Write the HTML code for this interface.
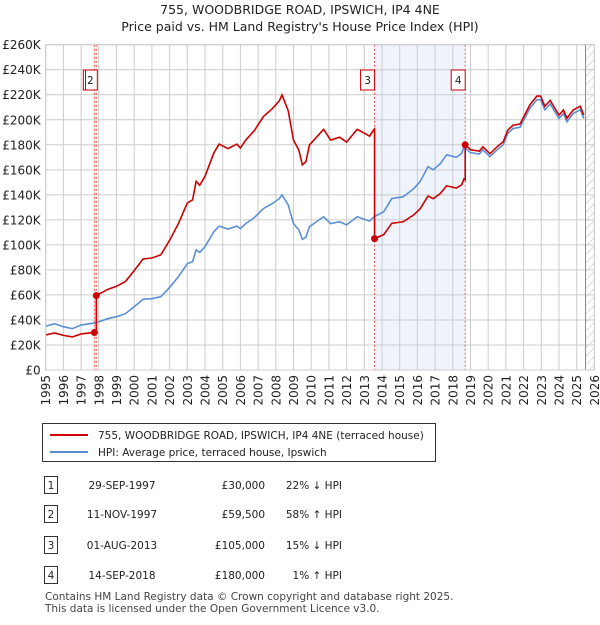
<!DOCTYPE html>
<html><head><meta charset="utf-8">
<style>
body{margin:0;background:#fff;font-family:"Liberation Sans","DejaVu Sans",sans-serif;}
svg text{font-family:"DejaVu Sans","Liberation Sans",sans-serif;}
</style></head><body>
<svg id="chart" width="600" height="620" viewBox="0 0 600 620" xmlns="http://www.w3.org/2000/svg">
<defs><pattern id="hatch" width="6" height="6" patternUnits="userSpaceOnUse" patternTransform="rotate(45)"><line x1="0" y1="0" x2="0" y2="6" stroke="#bbb" stroke-width="1"/></pattern></defs>
<text x="300" y="14" text-anchor="middle" font-size="12.5" fill="#222">755, WOODBRIDGE ROAD, IPSWICH, IP4 4NE</text>
<text x="300" y="31" text-anchor="middle" font-size="12.5" fill="#222">Price paid vs. HM Land Registry's House Price Index (HPI)</text>
<g id="plot"></g>
<g>
<rect x="42.5" y="423.5" width="393" height="38" fill="#fff" stroke="#333"/>
<line x1="50" y1="435" x2="88" y2="435" stroke="#cc0000" stroke-width="2"/>
<text x="98" y="439" font-size="10.5" fill="#222">755, WOODBRIDGE ROAD, IPSWICH, IP4 4NE (terraced house)</text>
<line x1="50" y1="452" x2="88" y2="452" stroke="#5b8fd4" stroke-width="2"/>
<text x="98" y="456" font-size="10.5" fill="#222">HPI: Average price, terraced house, Ipswich</text>
</g>
<g id="table" font-size="10.5" fill="#222"></g>
<text x="45" y="600" font-size="10.5" fill="#444">Contains HM Land Registry data © Crown copyright and database right 2025.</text>
<text x="45" y="612" font-size="10.5" fill="#444">This data is licensed under the Open Government Licence v3.0.</text>
</svg>
<script>
const hpiYears=[1995,1995.5,1996,1996.5,1997,1997.5,1997.8,1998.5,1999,1999.5,2000,2000.5,2001,2001.5,2002,2002.5,2003,2003.3,2003.5,2003.7,2004,2004.5,2004.8,2005.3,2005.8,2006,2006.3,2006.8,2007.3,2007.8,2008.2,2008.35,2008.7,2009,2009.3,2009.5,2009.7,2009.9,2010.7,2011.1,2011.6,2012,2012.6,2013.3,2013.55,2014.1,2014.55,2015.2,2015.8,2016.15,2016.6,2016.9,2017.3,2017.65,2018.2,2018.5,2018.63,2019,2019.5,2019.7,2020.1,2020.5,2020.85,2021.1,2021.4,2021.8,2022.35,2022.75,2022.96,2023.2,2023.5,2024,2024.25,2024.45,2024.8,2025.2,2025.4];
const hpiValues=[35,37,34.6,33,36,37,37.6,41,42.6,45,50.6,56.5,57,58.6,66,74.6,85,86.6,96,94,98.6,110.5,115,112.7,115,113,117,122,129,133,137,140,132,117,112,104.4,106,114.5,122.5,117,118.5,116,122.5,119,122.5,126.5,137,138.5,145,150.5,162.5,160,165,172,170,173,178.5,173.7,172.6,176,170.5,176,180,189,193,194,209,216,216,208,212.6,201,205,198.5,205,208,201];
const saleDates=[1997.75,1997.86,2013.58,2018.70];
const salePrices=[30,59.5,105,180];
const saleLabels=["1","2","3","4"];
const tableDates=["29-SEP-1997","11-NOV-1997","01-AUG-2013","14-SEP-2018"];
const tablePrices=["£30,000","£59,500","£105,000","£180,000"];
const tableHpi=["22% ↓ HPI","58% ↑ HPI","15% ↓ HPI","1% ↑ HPI"];
const yTicks=[0,20,40,60,80,100,120,140,160,180,200,220,240,260];
const xTicks=[1995,1996,1997,1998,1999,2000,2001,2002,2003,2004,2005,2006,2007,2008,2009,2010,2011,2012,2013,2014,2015,2016,2017,2018,2019,2020,2021,2022,2023,2024,2025,2026];

const NS="http://www.w3.org/2000/svg";
const L=45.7,R=594.4,T=44.7,B=370;
const X=y=>L+(y-1995)/(2026-1995)*(R-L);
const Y=v=>B-v/260*(B-T);
const plot=document.getElementById('plot');
function mk(tag,attrs,parent){const e=document.createElementNS(NS,tag);for(const k in attrs)e.setAttribute(k,attrs[k]);(parent||plot).appendChild(e);return e;}
function hpiAt(t){for(let i=1;i<hpiYears.length;i++){if(t<=hpiYears[i]){const f=(t-hpiYears[i-1])/(hpiYears[i]-hpiYears[i-1]);return hpiValues[i-1]+f*(hpiValues[i]-hpiValues[i-1]);}}return hpiValues[hpiValues.length-1];}

let sh=mk('rect',{x:X(saleDates[0]),y:T,width:X(saleDates[1])-X(saleDates[0]),height:B-T,fill:'#eef3fc'});


let sh2=mk('rect',{x:X(saleDates[2]),y:T,width:X(saleDates[3])-X(saleDates[2]),height:B-T,fill:'#eef3fc'});


let ht=mk('rect',{x:X(2025.5),y:T,width:R-X(2025.5),height:B-T,fill:'url(#hatch)'});


yTicks.forEach(v=>{const g=mk('line',{x1:L,x2:R,y1:Y(v),y2:Y(v),stroke:'#cccccc','stroke-width':1});


const t=mk('text',{x:L-5,y:Y(v)+4.5,'text-anchor':'end','font-size':'12',fill:'#222'});t.textContent=v===0?'£0':'£'+v+'K';

});
xTicks.forEach(y=>{const g=mk('line',{x1:X(y),x2:X(y),y1:T,y2:B,stroke:'#cccccc','stroke-width':1});


const t=mk('text',{x:0,y:0,'text-anchor':'end','font-size':'12',fill:'#222',transform:`translate(${X(y)+4.5},${B+5}) rotate(-90)`});t.textContent=y;

});
mk('line',{x1:X(2025.5),x2:X(2025.5),y1:T,y2:B,stroke:'#888','stroke-width':1});
saleDates.forEach((d,i)=>{const l=mk('line',{x1:X(d),x2:X(d),y1:T,y2:B,stroke:'#ee5555','stroke-width':1,'stroke-dasharray':'2,2'});

});
let hp=mk('polyline',{points:hpiYears.map((y,i)=>X(y)+','+Y(hpiValues[i])).join(' '),fill:'none',stroke:'#5b8fd4','stroke-width':1.6});


const pts=[];let seg=0;let fac=salePrices[0]/hpiAt(saleDates[0]);
for(let i=0;i<hpiYears.length;i++){
  while(seg<saleDates.length&&saleDates[seg]<=hpiYears[i]){
    pts.push([saleDates[seg],hpiAt(saleDates[seg])*fac]);
    pts.push([saleDates[seg],salePrices[seg]]);
    fac=salePrices[seg]/hpiAt(saleDates[seg]);seg++;
  }
  pts.push([hpiYears[i],hpiValues[i]*fac]);
}
let rl=mk('polyline',{points:pts.map(p=>X(p[0])+','+Y(p[1])).join(' '),fill:'none',stroke:'#cc0000','stroke-width':1.6});


saleDates.forEach((d,i)=>{const c=mk('circle',{cx:X(d),cy:Y(salePrices[i]),r:3.5,fill:'#cc0000'});

});
saleDates.forEach((d,i)=>{if(i===0)return;const off=i===1?-6:-7;const bx=X(d)+off-7;
const r=mk('rect',{x:bx,y:70,width:14,height:20,fill:'#fff',stroke:'#cc0000','stroke-width':1});


const t=mk('text',{x:bx+7,y:84,'text-anchor':'middle','font-size':'10.5',fill:'#222'});t.textContent=saleLabels[i];

});
mk('line',{x1:85.5,x2:85.5,y1:70,y2:90,stroke:'#cc0000','stroke-width':1});
mk('rect',{x:L,y:T,width:R-L,height:B-T,fill:'none',stroke:'#cccccc'});
const tb=document.getElementById('table');const rows=[486,515,546,576];
rows.forEach((y,i)=>{
const r=mk('rect',{x:44.5,y:y-9.5,width:13,height:17,fill:'#fff',stroke:'#333'},tb);


const a=mk('text',{x:51,y:y+3,'text-anchor':'middle'},tb);a.textContent=saleLabels[i];
const b=mk('text',{x:122,y:y+3,'text-anchor':'middle'},tb);b.textContent=tableDates[i];


const c=mk('text',{x:265,y:y+3,'text-anchor':'end'},tb);c.textContent=tablePrices[i];


const d=mk('text',{x:342,y:y+3,'text-anchor':'end'},tb);d.textContent=tableHpi[i];


});
</script>
</body></html>
